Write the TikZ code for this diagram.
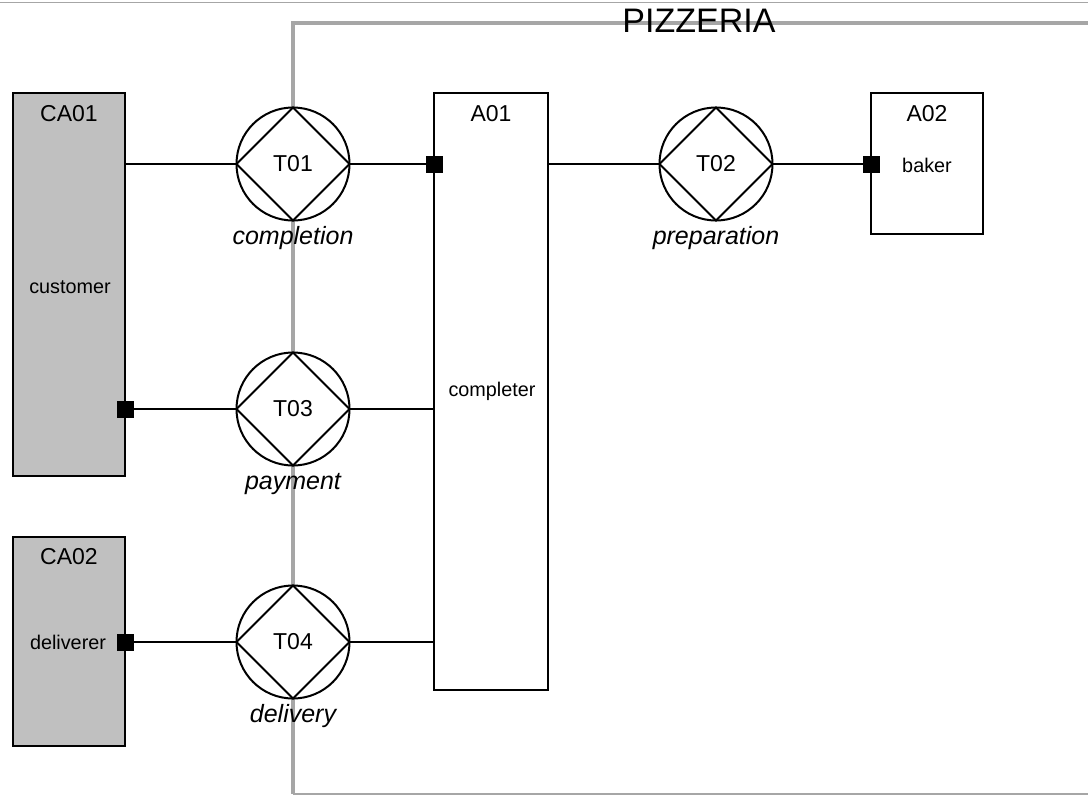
\documentclass[tikz,border=0pt]{standalone}
\usepackage{fontspec}
\setmainfont{Liberation Sans}
\usetikzlibrary{positioning}
\definecolor{actorgrey}{RGB}{192,192,192}
\definecolor{scopegrey}{RGB}{166,166,166}
\tikzset{
  actorbox/.style={draw, line width=2pt, inner sep=0pt, outer sep=0pt},
  envbox/.style={actorbox, fill=actorgrey},
  transbox/.style={circle, draw, fill=white, line width=2pt, minimum size=113pt, inner sep=0pt, outer sep=0pt, font=\fontsize{23}{26}\selectfont},
  portbox/.style={rectangle, fill=black, minimum size=17pt, inner sep=0pt, outer sep=0pt},
  idtext/.style={font=\fontsize{23}{26}\selectfont, inner sep=0pt},
  roletext/.style={font=\fontsize{19.8}{22}\selectfont, inner sep=0pt},
  resulttext/.style={font=\fontsize{25}{28}\selectfont\itshape, inner sep=0pt},
  link/.style={line width=2pt},
}
\begin{document}
\begin{tikzpicture}[x=1pt, y=-1pt]
	\useasboundingbox (0,0) rectangle (1088,796);

	% Scope of the organisation
	\draw[scopegrey, line width=1.5pt] (0,2.5) -- (1088,2.5);
	\draw[scopegrey, line width=4pt] (1088,23) -- (293,23) -- (293,794);
	\draw[scopegrey, line width=2pt] (293,794) -- (1088,794);
	\node[font=\fontsize{34}{38}\selectfont, inner sep=0pt] (scope) at (699,21) {PIZZERIA};

	% Environment actors
	\node[envbox, minimum width=112pt, minimum height=383pt] (CA01) at (69,284.5) {};
	\node[envbox, minimum width=112pt, minimum height=209pt] (CA02) at (69,641.5) {};
	\node[idtext] (CA01id) at (69,114) {CA01};
	\node[roletext] (CA01role) at (70,287) {customer};
	\node[idtext] (CA02id) at (69,557) {CA02};
	\node[roletext] (CA02role) at (68,642) {deliverer};

	% Internal actors
	\node[actorbox, minimum width=114pt, minimum height=597pt] (A01) at (491,391.5) {};
	\node[actorbox, minimum width=112pt, minimum height=141pt] (A02) at (927,163.5) {};
	\node[idtext] (A01id) at (491,114) {A01};
	\node[roletext] (A01role) at (492,391) {completer};
	\node[idtext] (A02id) at (927,114) {A02};
	\node[roletext] (A02role) at (927,165) {baker};

	% Transactions
	\node[transbox] (T01) at (293,164) {T01};
	\node[transbox] (T02) at (716,164) {T02};
	\node[transbox] (T03) at (293,409) {T03};
	\node[transbox] (T04) at (293,642) {T04};
	\draw[link] (T01.north) -- (T01.east) -- (T01.south) -- (T01.west) -- cycle;
	\draw[link] (T02.north) -- (T02.east) -- (T02.south) -- (T02.west) -- cycle;
	\draw[link] (T03.north) -- (T03.east) -- (T03.south) -- (T03.west) -- cycle;
	\draw[link] (T04.north) -- (T04.east) -- (T04.south) -- (T04.west) -- cycle;

	% -- results
	\node[resulttext] (R01) at (293,238) {completion};
	\node[resulttext] (R02) at (716,238) {preparation};
	\node[resulttext] (R03) at (293,484) {payment};
	\node[resulttext] (R04) at (293,716) {delivery};

	% Executor ports
	\coordinate (c01) at (CA01.east |- T01.west);
	\coordinate (c02) at (A01.east |- T02.west);
	\coordinate (c04) at (A01.west |- T04.east);
	\coordinate (c03) at (A01.west |- T03.east);
	\node[portbox] (p01) at (A01.west |- T01.east) {};
	\node[portbox] (p02) at (A02.west |- T02.east) {};
	\node[portbox] (p03) at (CA01.east |- T03.west) {};
	\node[portbox] (p04) at (CA02.east |- T04.west) {};

	% Links
	\draw[link] (c01) -- (T01.west);
	\draw[link] (T01.east) -- (p01);
	\draw[link] (c02) -- (T02.west);
	\draw[link] (T02.east) -- (p02);
	\draw[link] (p03) -- (T03.west);
	\draw[link] (T03.east) -- (c03);
	\draw[link] (p04) -- (T04.west);
	\draw[link] (T04.east) -- (c04);
\end{tikzpicture}
\end{document}
